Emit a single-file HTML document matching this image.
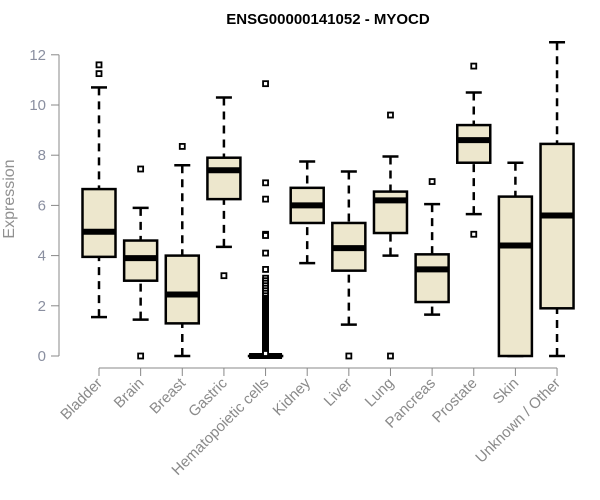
<!DOCTYPE html>
<html><head><meta charset="utf-8"><style>
body{margin:0;background:#fff}
svg{display:block;font-family:"Liberation Sans",Arial,sans-serif}
</style></head><body>
<svg id="chart" width="600" height="500">
<text x="328" y="24" text-anchor="middle" font-weight="bold" font-size="15">ENSG00000141052 - MYOCD</text>
<text transform="translate(14,199) rotate(-90)" text-anchor="middle" font-size="16" fill="#909090">Expression</text>
<g id="yaxis"></g>
<g id="xaxis"></g>
<g id="boxes"></g>
</svg>
<script>
const categories=["Bladder","Brain","Breast","Gastric","Hematopoietic cells","Kidney","Liver","Lung","Pancreas","Prostate","Skin","Unknown / Other"];
const whiskerLow=[1.55,1.45,0,4.35,0,3.7,1.25,4.0,1.65,5.65,0,0];
const q1=[3.95,3.0,1.3,6.25,0,5.3,3.4,4.9,2.15,7.7,0,1.9];
const median=[4.95,3.9,2.45,7.4,0,6.0,4.3,6.2,3.45,8.6,4.4,5.6];
const q3=[6.65,4.6,4.0,7.9,0,6.7,5.3,6.55,4.05,9.2,6.35,8.45];
const whiskerHigh=[10.7,5.9,7.6,10.3,0,7.75,7.35,7.95,6.05,10.5,7.7,12.5];
const outliers=[[11.25,11.6],[7.45,0],[8.35],[3.2],[10.85,6.9,6.25,4.85,4.8,4.1,3.45,3.1,3.0,2.9,2.8,2.7,2.6,2.5,2.4,2.3,2.25,2.2,2.15,2.1,2.05,2.0,1.95,1.9,1.85,1.8,1.75,1.7,1.65,1.6,1.55,1.5,1.45,1.4,1.35,1.3,1.25,1.2,1.15,1.1,1.05,1.0,0.95,0.9,0.85,0.8,0.75,0.7,0.65,0.6,0.55,0.5,0.45,0.4,0.35,0.3,0.25,0.2,0.15,0.1],[],[0],[9.6,0],[6.95],[11.55,4.85],[],[]];
const yTicks=[0,2,4,6,8,10,12];
const NS="http://www.w3.org/2000/svg";
const y=v=>356-v*25.1;
const x=i=>99+i*41.64;
function mk(t,a,p){const e=document.createElementNS(NS,t);for(const k in a)e.setAttribute(k,a[k]);p.appendChild(e);return e;}
const ya=document.getElementById('yaxis'),xa=document.getElementById('xaxis'),bx=document.getElementById('boxes');
mk('line',{x1:59,x2:59,y1:y(0),y2:y(12),stroke:'#888'},ya);
yTicks.forEach(t=>{mk('line',{x1:51,x2:59,y1:y(t),y2:y(t),stroke:'#888'},ya);
const tx=mk('text',{x:46,y:y(t)+5,'text-anchor':'end','font-size':15,fill:'#8a8fa0'},ya);tx.textContent=t;

});
mk('line',{x1:x(0),x2:x(11),y1:368,y2:368,stroke:'#888'},xa);
categories.forEach((c,i)=>{mk('line',{x1:x(i),x2:x(i),y1:368,y2:376,stroke:'#888'},xa);
const tx=mk('text',{transform:`translate(${x(i)+4},${384}) rotate(-45)`,'text-anchor':'end','font-size':15,fill:'#8a8a8a'},xa);tx.textContent=c;


const g=mk('g',{},bx);


const cx=x(i),hw=16.5,cw=8;
mk('line',{x1:cx,x2:cx,y1:y(whiskerLow[i]),y2:y(q1[i]),stroke:'#000','stroke-width':2.5,'stroke-dasharray':'8,6'},g);
mk('line',{x1:cx,x2:cx,y1:y(whiskerHigh[i]),y2:y(q3[i]),stroke:'#000','stroke-width':2.5,'stroke-dasharray':'8,6'},g);
mk('line',{x1:cx-cw,x2:cx+cw,y1:y(whiskerLow[i]),y2:y(whiskerLow[i]),stroke:'#000','stroke-width':2.5},g);
mk('line',{x1:cx-cw,x2:cx+cw,y1:y(whiskerHigh[i]),y2:y(whiskerHigh[i]),stroke:'#000','stroke-width':2.5},g);
mk('rect',{x:cx-hw,y:y(q3[i]),width:2*hw,height:Math.max(y(q1[i])-y(q3[i]),0.1),fill:'#ede7cd',stroke:'#000','stroke-width':2.5},g);
mk('line',{x1:cx-hw,x2:cx+hw,y1:y(median[i]),y2:y(median[i]),stroke:'#000','stroke-width':6},g);
outliers[i].forEach(o=>{mk('rect',{x:cx-2.5,y:y(o)-2.5,width:5,height:5,fill:'#fff',stroke:'#000','stroke-width':1.8},g);});
});
</script>
</body></html>
